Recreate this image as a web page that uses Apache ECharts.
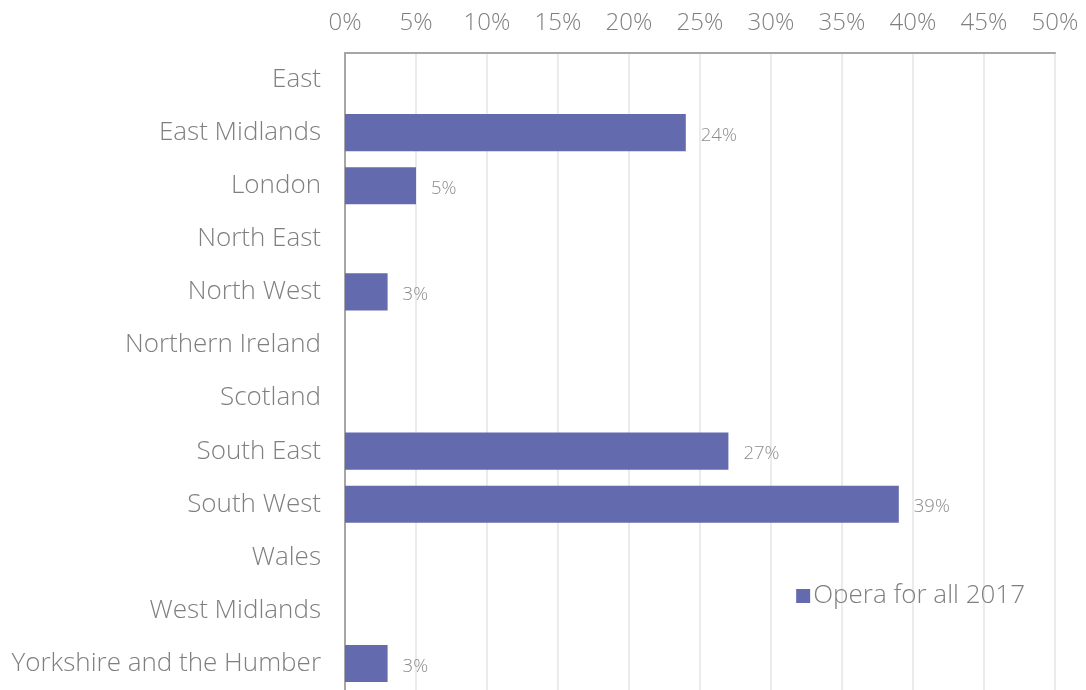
<!DOCTYPE html>
<html>
<head>
<meta charset="utf-8">
<script src="https://cdn.jsdelivr.net/npm/echarts@6/dist/echarts.min.js"></script>
<style>
  html, body { margin: 0; padding: 0; background: #fff; }
  #chart { width: 1086px; height: 690px; }
</style>
</head>
<body>
<div id="chart"></div>
<script>
// Regions, listed top to bottom
const regions = [
  'East', 'East Midlands', 'London', 'North East', 'North West',
  'Northern Ireland', 'Scotland', 'South East', 'South West', 'Wales',
  'West Midlands', 'Yorkshire and the Humber'
];
// Share of audience per region, percent (null = no bar)
const operaForAll2017 = [null, 24, 5, null, 3, null, null, 27, 39, null, null, 3];
const seriesName = 'Opera for all 2017';
const axisMax = 50;
const axisStep = 5;

const font = '"Open Sans", Lato, sans-serif';
const chart = echarts.init(document.getElementById('chart'));
chart.setOption({
  backgroundColor: '#ffffff',
  animation: false,
  textStyle: { fontFamily: font },
  grid: { left: 345, right: 31, top: 53, bottom: -2, containLabel: false },
  legend: {
    data: [seriesName],
    right: 56,
    top: 578,
    itemWidth: 14,
    itemHeight: 14,
    itemGap: 4,
    icon: 'rect',
    textStyle: { color: '#7f7f7f', fontSize: 26, fontWeight: 300, fontFamily: font, padding: [0, 0, 0, -2] }
  },
  xAxis: {
    type: 'value',
    position: 'top',
    min: 0,
    max: axisMax,
    interval: axisStep,
    axisLine: { show: true, lineStyle: { color: '#a6a6a6', width: 2 } },
    axisTick: { show: false },
    axisLabel: {
      color: '#7f7f7f',
      fontSize: 24,
      fontWeight: 300,
      margin: 18,
      fontFamily: font,
      formatter: v => v + '%'
    },
    splitLine: { show: true, lineStyle: { color: '#ebebeb', width: 2 } }
  },
  yAxis: {
    type: 'category',
    inverse: true,
    data: regions,
    axisLine: { show: true, lineStyle: { color: '#a6a6a6', width: 2 } },
    axisTick: { show: false },
    axisLabel: {
      color: '#7f7f7f', fontSize: 26, fontWeight: 300, margin: 24, fontFamily: font,
      padding: [4, 0, 0, 0]
    },
    splitLine: { show: false }
  },
  series: [{
    name: seriesName,
    type: 'bar',
    data: operaForAll2017,
    barWidth: '70%',
    itemStyle: { color: '#636aae' },
    label: {
      show: true,
      position: 'right',
      distance: 15,
      offset: [0, 3],
      color: '#8c8c8c',
      fontSize: 18.5,
      fontWeight: 300,
      fontFamily: font,
      formatter: p => p.value + '%'
    }
  }]
});
</script>
</body>
</html>
